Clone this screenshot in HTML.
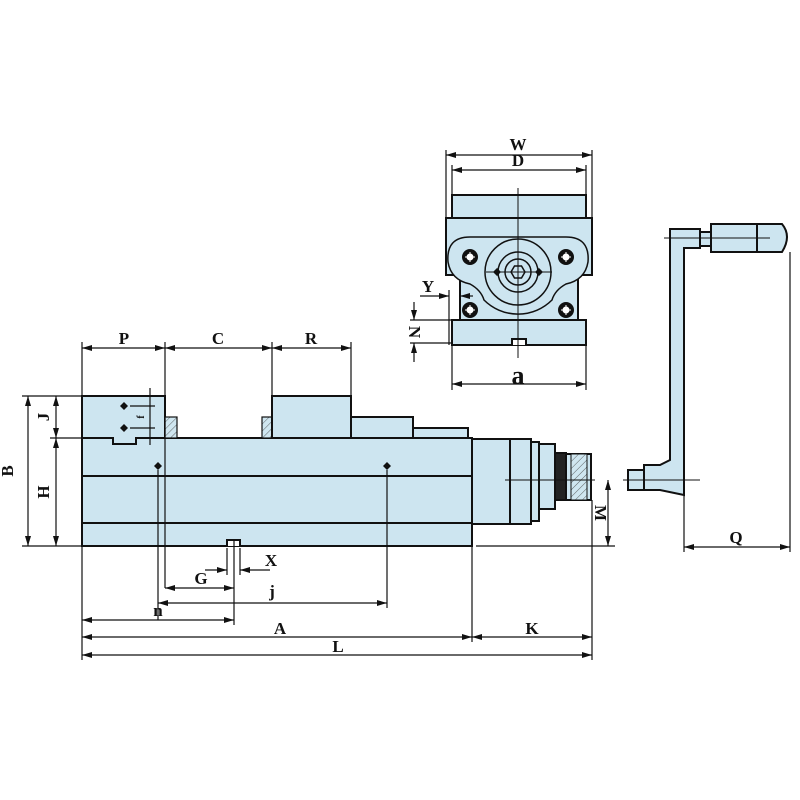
<!DOCTYPE html>
<html><head><meta charset="utf-8"><style>html,body{margin:0;padding:0;background:#fff}svg{display:block}</style></head><body>
<svg width="800" height="800" viewBox="0 0 800 800" xmlns="http://www.w3.org/2000/svg" font-family="Liberation Serif, serif" font-weight="bold">
<defs>
<marker id="a" viewBox="0 0 10 6" refX="10" refY="3" markerWidth="10" markerHeight="6" orient="auto-start-reverse" markerUnits="userSpaceOnUse"><path d="M0,0L10,3L0,6z" fill="#111"/></marker>
<pattern id="h" width="5" height="5" patternUnits="userSpaceOnUse" patternTransform="rotate(45)"><rect width="5" height="5" fill="#cfe6f0"/><line x1="0" y1="0" x2="0" y2="5" stroke="#444" stroke-width="0.8"/></pattern>
</defs>
<g fill="#cde5f0" stroke="#111" stroke-width="2">
<rect x="82" y="438" width="390" height="108"/>
<line x1="82" y1="476" x2="472" y2="476"/>
<line x1="82" y1="523" x2="472" y2="523"/>
<path d="M227,546V540H240V546" fill="#fff"/>
<path d="M82,438V396H165V438H136V444H113V438Z"/>
<rect x="165" y="417" width="12" height="21" fill="url(#h)" stroke-width="1.2"/>
<rect x="262" y="417" width="10" height="21" fill="url(#h)" stroke-width="1.2"/>
<rect x="272" y="396" width="79" height="42"/>
<rect x="351" y="417" width="62" height="21"/>
<rect x="413" y="428" width="55" height="10"/>
<rect x="472" y="439" width="59" height="85"/>
<line x1="510" y1="439" x2="510" y2="524"/>
<rect x="531" y="442" width="8" height="79"/>
<rect x="539" y="444" width="16" height="65"/>
<rect x="555" y="453" width="11" height="47" fill="#222"/>
<rect x="566" y="454" width="25" height="46"/>
<rect x="571" y="454" width="16" height="46" fill="url(#h)" stroke-width="1"/>
<path d="M670,229H700V248H684V495L660,490H644V465H660L670,460Z"/>
<rect x="700" y="232" width="11" height="14"/>
<path d="M711,224H782Q792,236 782,252H711Z"/>
<line x1="757" y1="224" x2="757" y2="252"/>
<rect x="628" y="470" width="16" height="20"/>
<rect x="452" y="195" width="134" height="23"/>
<path d="M446,218H592V275H578V320H460V275H446Z"/>
<path d="M448,262Q446,237 470,237H566Q590,237 588,262Q585,280 566,284Q555,290 552,300A48,48 0 0 1 484,300Q481,290 470,284Q451,280 448,262Z" stroke-width="1.5"/>
<rect x="452" y="320" width="134" height="25"/>
<path d="M512,345V339H526V345" fill="#fff"/>
</g>
<g fill="none" stroke="#111" stroke-width="1.5">
<circle cx="518" cy="272" r="33"/>
<circle cx="518" cy="272" r="20"/>
<circle cx="518" cy="272" r="13"/>
<path d="M511,272l3.5,-6h7l3.5,6l-3.5,6h-7z"/>
</g>
<g fill="#111">
<circle cx="470" cy="257" r="8"/><circle cx="566" cy="257" r="8"/><circle cx="470" cy="310" r="8"/><circle cx="566" cy="310" r="8"/>
</g>
<g fill="#fff"><circle cx="470" cy="257" r="3.5"/><circle cx="566" cy="257" r="3.5"/><circle cx="470" cy="310" r="3.5"/><circle cx="566" cy="310" r="3.5"/></g>
<g stroke="#111" stroke-width="1">
<line x1="518" y1="188" x2="518" y2="358"/>
<line x1="486" y1="272" x2="552" y2="272"/>
<line x1="465" y1="257" x2="475" y2="257" stroke="#fff"/><line x1="470" y1="252" x2="470" y2="262" stroke="#fff"/>
<line x1="561" y1="257" x2="571" y2="257" stroke="#fff"/><line x1="566" y1="252" x2="566" y2="262" stroke="#fff"/>
<line x1="465" y1="310" x2="475" y2="310" stroke="#fff"/><line x1="470" y1="305" x2="470" y2="315" stroke="#fff"/>
<line x1="561" y1="310" x2="571" y2="310" stroke="#fff"/><line x1="566" y1="305" x2="566" y2="315" stroke="#fff"/>
<line x1="505" y1="480" x2="595" y2="480"/>
<line x1="623" y1="480" x2="700" y2="480"/>
<line x1="664" y1="238" x2="770" y2="238"/>
</g>
<g fill="#111"><path d="M493,272l4,-4l4,4l-4,4z"/><path d="M535,272l4,-4l4,4l-4,4z"/>
<path d="M120,406l4,-4l4,4l-4,4z"/><path d="M120,428l4,-4l4,4l-4,4z"/>
<path d="M154,466l4,-4l4,4l-4,4z"/><path d="M383,466l4,-4l4,4l-4,4z"/></g>
<g stroke="#111" stroke-width="1.2" fill="none">
<line x1="446" y1="150" x2="446" y2="218"/><line x1="592" y1="150" x2="592" y2="218"/>
<line x1="452" y1="165" x2="452" y2="195"/><line x1="586" y1="165" x2="586" y2="195"/>
<line x1="446" y1="155" x2="592" y2="155" marker-start="url(#a)" marker-end="url(#a)"/>
<line x1="452" y1="170" x2="586" y2="170" marker-start="url(#a)" marker-end="url(#a)"/>
<line x1="452" y1="345" x2="452" y2="390"/><line x1="586" y1="345" x2="586" y2="390"/>
<line x1="452" y1="384" x2="586" y2="384" marker-start="url(#a)" marker-end="url(#a)"/>
<line x1="420" y1="296" x2="449" y2="296" marker-end="url(#a)"/><line x1="473" y1="296" x2="460" y2="296" marker-end="url(#a)"/>
<line x1="449" y1="290" x2="449" y2="345"/>
<line x1="410" y1="320" x2="452" y2="320"/><line x1="410" y1="343" x2="452" y2="343"/>
<line x1="414" y1="302" x2="414" y2="320" marker-end="url(#a)"/><line x1="414" y1="362" x2="414" y2="343" marker-end="url(#a)"/>
<line x1="82" y1="342" x2="82" y2="396"/><line x1="165" y1="342" x2="165" y2="588"/><line x1="272" y1="342" x2="272" y2="396"/><line x1="351" y1="342" x2="351" y2="396"/>
<line x1="82" y1="348" x2="165" y2="348" marker-start="url(#a)" marker-end="url(#a)"/>
<line x1="165" y1="348" x2="272" y2="348" marker-start="url(#a)" marker-end="url(#a)"/>
<line x1="272" y1="348" x2="351" y2="348" marker-start="url(#a)" marker-end="url(#a)"/>
<line x1="22" y1="396" x2="82" y2="396"/><line x1="22" y1="546" x2="82" y2="546"/><line x1="50" y1="438" x2="82" y2="438"/>
<line x1="28" y1="396" x2="28" y2="546" marker-start="url(#a)" marker-end="url(#a)"/>
<line x1="56" y1="396" x2="56" y2="438" marker-start="url(#a)" marker-end="url(#a)"/>
<line x1="56" y1="438" x2="56" y2="546" marker-start="url(#a)" marker-end="url(#a)"/>
<line x1="130" y1="406" x2="155" y2="406"/><line x1="130" y1="428" x2="155" y2="428"/>
<line x1="150" y1="388" x2="150" y2="445"/>
<line x1="158" y1="470" x2="158" y2="620"/><line x1="387" y1="470" x2="387" y2="608"/>
<line x1="82" y1="546" x2="82" y2="660"/><line x1="472" y1="546" x2="472" y2="642"/><line x1="592" y1="500" x2="592" y2="660"/>
<line x1="227" y1="548" x2="227" y2="575"/><line x1="240" y1="548" x2="240" y2="575"/><line x1="234" y1="540" x2="234" y2="625"/>
<line x1="205" y1="570" x2="227" y2="570" marker-end="url(#a)"/><line x1="270" y1="570" x2="240" y2="570" marker-end="url(#a)"/>
<line x1="165" y1="588" x2="234" y2="588" marker-start="url(#a)" marker-end="url(#a)"/>
<line x1="158" y1="603" x2="387" y2="603" marker-start="url(#a)" marker-end="url(#a)"/>
<line x1="82" y1="620" x2="234" y2="620" marker-start="url(#a)" marker-end="url(#a)"/>
<line x1="82" y1="637" x2="472" y2="637" marker-start="url(#a)" marker-end="url(#a)"/>
<line x1="472" y1="637" x2="592" y2="637" marker-start="url(#a)" marker-end="url(#a)"/>
<line x1="82" y1="655" x2="592" y2="655" marker-start="url(#a)" marker-end="url(#a)"/>
<line x1="476" y1="546" x2="615" y2="546"/>
<line x1="608" y1="480" x2="608" y2="546" marker-start="url(#a)" marker-end="url(#a)"/>
<line x1="684" y1="495" x2="684" y2="552"/><line x1="790" y1="252" x2="790" y2="552"/>
<line x1="684" y1="547" x2="790" y2="547" marker-start="url(#a)" marker-end="url(#a)"/>
</g>
<g fill="#111" font-size="17" text-anchor="middle">
<text x="518" y="150">W</text><text x="518" y="166">D</text>
<text x="518" y="384" font-size="26">a</text>
<text x="428" y="292">Y</text>
<text transform="translate(409,332) rotate(90)" >N</text>
<text x="124" y="344">P</text><text x="218" y="344">C</text><text x="311" y="344">R</text>
<text transform="translate(13,471) rotate(-90)">B</text>
<text transform="translate(49,417) rotate(-90)">J</text>
<text transform="translate(49,492) rotate(-90)">H</text>
<text transform="translate(144,417) rotate(-90)" font-size="10">f</text>
<text x="271" y="566">X</text><text x="201" y="584">G</text><text x="272" y="597">j</text>
<text x="158" y="616">n</text><text x="280" y="634">A</text><text x="532" y="634">K</text><text x="338" y="652">L</text>
<text transform="translate(595,513) rotate(90)">M</text>
<text x="736" y="543">Q</text>
</g>
</svg>
</body></html>
